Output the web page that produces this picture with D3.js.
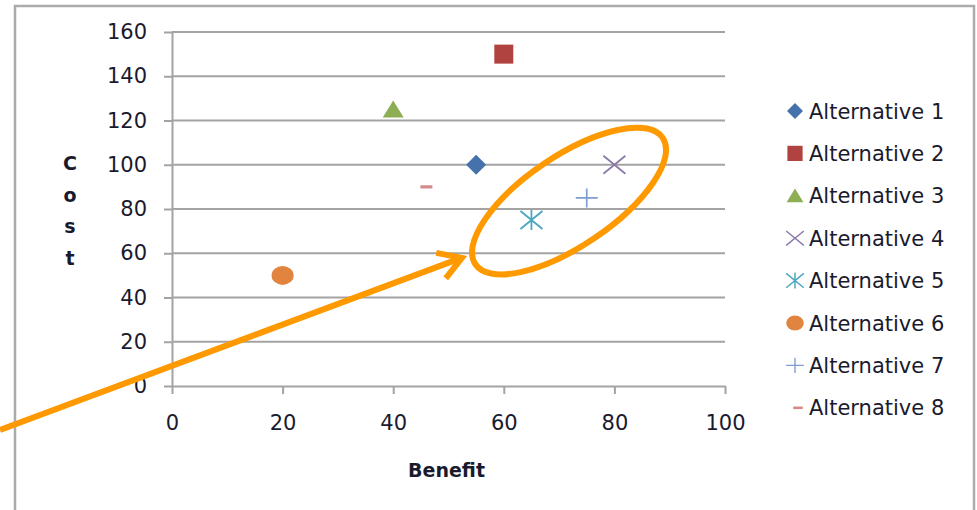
<!DOCTYPE html>
<html>
<head>
<meta charset="utf-8">
<script src="https://cdn.jsdelivr.net/npm/d3@7"></script>
<style>
  html, body { margin: 0; padding: 0; background: #fff; }
  svg { display: block; }
  text { font-family: "DejaVu Sans", Verdana, sans-serif; fill: #1a1a2e; }
</style>
</head>
<body>
<svg id="chart" width="977" height="510"></svg>
<script>
// Alternatives plotted as benefit vs cost
const names   = ["Alternative 1", "Alternative 2", "Alternative 3", "Alternative 4",
                 "Alternative 5", "Alternative 6", "Alternative 7", "Alternative 8"];
const benefit = [55, 60, 40, 80, 65, 20, 75, 46];
const cost    = [100, 150, 125, 100, 75, 50, 85, 90];
const shapes  = ["diamond", "square", "triangle", "x", "asterisk", "circle", "plus", "dash"];
const colors  = ["#4672AC", "#B0433F", "#8DAE52", "#8A78A8", "#4AA6BE", "#E0843F", "#7E9DD0", "#D48A8C"];

const xTicks = [0, 20, 40, 60, 80, 100];
const yTicks = [0, 20, 40, 60, 80, 100, 120, 140, 160];

// Highlight annotation (ellipse around the efficient group + pointer arrow), in data units
const ringCenter = [71.8, 83.6];
const arrowTail  = [-31.1, -19.9];
const arrowTip   = [52.4, 57.9];

const svg = d3.select("#chart");
const orange = "#FF9900";
const gridColor = "#A3A3A3";

// Outer chart frame
svg.append("rect")
  .attr("x", 15).attr("y", 6).attr("width", 959).attr("height", 520)
  .attr("fill", "none").attr("stroke", "#ABABAB").attr("stroke-width", 2.5);

const x = d3.scaleLinear().domain([0, 100]).range([172, 725]);
const y = d3.scaleLinear().domain([0, 160]).range([386, 32]);

// Horizontal gridlines
svg.append("g").selectAll("line").data(yTicks.filter(d => d > 0)).join("line")
  .attr("x1", x(0)).attr("x2", x(100))
  .attr("y1", d => y(d)).attr("y2", d => y(d))
  .attr("stroke", gridColor).attr("stroke-width", 2);

// Axes
const yAxis = svg.append("g").attr("transform", `translate(${x(0)},0)`)
  .call(d3.axisLeft(y).tickValues(yTicks).tickSize(8).tickSizeOuter(0).tickPadding(17));
const xAxis = svg.append("g").attr("transform", `translate(0,${y(0)})`)
  .call(d3.axisBottom(x).tickValues(xTicks).tickSize(8).tickSizeOuter(0).tickPadding(21));
[xAxis, yAxis].forEach(g => {
  g.select(".domain").attr("stroke", gridColor).attr("stroke-width", 2);
  g.selectAll(".tick line").attr("stroke", gridColor).attr("stroke-width", 2);
  g.selectAll(".tick text").attr("font-size", 21).attr("fill", "#1a1a2e")
    .attr("font-family", "DejaVu Sans, Verdana, sans-serif");
});

// Axis titles
svg.append("text").attr("x", x(50) - 2).attr("y", 477)
  .attr("text-anchor", "middle").attr("font-size", 19).attr("font-weight", "bold")
  .text("Benefit");
svg.append("g").selectAll("text").data("Cost".split("")).join("text")
  .attr("x", 70).attr("y", (d, i) => 170 + i * 31.5)
  .attr("text-anchor", "middle").attr("font-size", 19).attr("font-weight", "bold")
  .text(d => d);

// Marker drawing
function drawMarker(g, shape, color) {
  switch (shape) {
    case "diamond":
      g.append("path").attr("d", "M0,-10L10,0L0,10L-10,0Z").attr("fill", color); break;
    case "square":
      g.append("rect").attr("x", -9.5).attr("y", -9.5).attr("width", 19).attr("height", 19)
        .attr("fill", color); break;
    case "triangle":
      g.append("path").attr("d", "M0,-9L10.5,8L-10.5,8Z").attr("fill", color); break;
    case "x":
      g.append("path").attr("d", "M-11,-9L11,9M-11,9L11,-9")
        .attr("stroke", color).attr("stroke-width", 1.7).attr("fill", "none"); break;
    case "asterisk":
      g.append("path").attr("d", "M-11,-9L11,9M-11,9L11,-9M0,-10L0,10")
        .attr("stroke", color).attr("stroke-width", 1.8).attr("fill", "none"); break;
    case "circle":
      g.append("ellipse").attr("rx", 11).attr("ry", 9.5).attr("fill", color); break;
    case "plus":
      g.append("path").attr("d", "M-11,0L11,0M0,-9.5L0,9.5")
        .attr("stroke", color).attr("stroke-width", 1.7).attr("fill", "none"); break;
    case "dash":
      g.append("rect").attr("x", -6).attr("y", -1.6).attr("width", 12).attr("height", 3.2)
        .attr("fill", color); break;
  }
}

// Data points
names.forEach((n, i) => {
  const g = svg.append("g").attr("transform", `translate(${x(benefit[i])},${y(cost[i])})`);
  drawMarker(g, shapes[i], colors[i]);
});

// Legend
const legend = svg.append("g").attr("transform", "translate(795,111)");
names.forEach((n, i) => {
  const row = legend.append("g").attr("transform", `translate(0,${i * 42.4})`);
  const mg = row.append("g")
    .attr("transform", (shapes[i] === "dash" ? "translate(3,0) " : "") + "scale(0.8)");
  drawMarker(mg, shapes[i], colors[i]);
  row.append("text").attr("x", 14).attr("y", 0).attr("dy", "0.36em")
    .attr("font-size", 21).text(n);
});

// Highlight ellipse
const cx = x(ringCenter[0]), cy = y(ringCenter[1]);
svg.append("ellipse")
  .attr("cx", cx).attr("cy", cy).attr("rx", 113).attr("ry", 45)
  .attr("transform", `rotate(-34,${cx},${cy})`)
  .attr("fill", "none").attr("stroke", orange).attr("stroke-width", 6);

// Pointer arrow
const tx = x(arrowTail[0]), ty = y(arrowTail[1]);
const hx = x(arrowTip[0]), hy = y(arrowTip[1]);
svg.append("line").attr("x1", tx).attr("y1", ty).attr("x2", hx - 3).attr("y2", hy + 1)
  .attr("stroke", orange).attr("stroke-width", 6);
const ang = Math.atan2(hy - ty, hx - tx);
const headLen = 26, spread = 0.55;
const p1 = [hx - headLen * Math.cos(ang - spread), hy - headLen * Math.sin(ang - spread)];
const p2 = [hx - headLen * Math.cos(ang + spread), hy - headLen * Math.sin(ang + spread)];
svg.append("path")
  .attr("d", `M${p1[0]},${p1[1]}L${hx},${hy}L${p2[0]},${p2[1]}`)
  .attr("fill", "none").attr("stroke", orange).attr("stroke-width", 6)
  .attr("stroke-linejoin", "miter").attr("stroke-linecap", "butt");
</script>
</body>
</html>
